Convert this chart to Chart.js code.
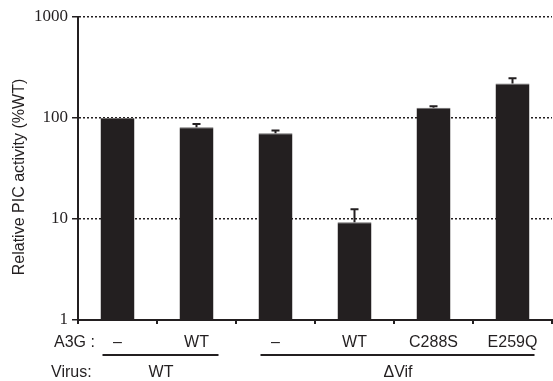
<!DOCTYPE html>
<html>
<head>
<meta charset="utf-8">
<script src="https://cdn.jsdelivr.net/npm/chart.js@4"></script>
<style>
  html, body { margin: 0; padding: 0; background: #fff; }
  #wrap { width: 553px; height: 381px; }
</style>
</head>
<body>
<div id="wrap"><canvas id="picChart" width="553" height="381"></canvas></div>
<script>
// data
const a3gLabels = ['\u2013', 'WT', '\u2013', 'WT', 'C288S', 'E259Q'];
const picActivity = [100, 81, 70.5, 9.3, 126, 220];
const errorTop = [100, 87, 75, 12.5, 131, 247];
const virusGroups = [
  { name: 'WT', from: 0, to: 1 },
  { name: '\u0394Vif', from: 2, to: 5 }
];
const yTicks = [1, 10, 100, 1000];

const sans = '"Liberation Sans", Arial, sans-serif';
const serif = '"Liberation Serif", "Times New Roman", serif';
const ink = '#231f20';

const errorBars = {
  id: 'errorBars',
  afterDatasetsDraw(chart) {
    const ctx = chart.ctx;
    const y = chart.scales.y;
    const meta = chart.getDatasetMeta(0);
    ctx.save();
    ctx.strokeStyle = ink;
    ctx.lineWidth = 2;
    meta.data.forEach((bar, i) => {
      if (errorTop[i] <= picActivity[i]) return;
      const top = y.getPixelForValue(errorTop[i]);
      const base = y.getPixelForValue(picActivity[i]);
      ctx.beginPath();
      ctx.moveTo(bar.x, base);
      ctx.lineTo(bar.x, top);
      ctx.moveTo(bar.x - 4, top);
      ctx.lineTo(bar.x + 4, top);
      ctx.stroke();
    });
    ctx.restore();
  }
};

const extraLabels = {
  id: 'extraLabels',
  afterDraw(chart) {
    const ctx = chart.ctx;
    const x = chart.scales.x;
    ctx.save();
    ctx.fillStyle = ink;
    ctx.strokeStyle = ink;
    ctx.font = '16px ' + sans;
    ctx.textBaseline = 'middle';

    ctx.textAlign = 'left';
    ctx.fillText('A3G :', 54, 343);
    ctx.fillText('Virus:', 51, 373);

    ctx.lineWidth = 2;
    ctx.textAlign = 'center';
    virusGroups.forEach(g => {
      const x0 = x.getPixelForValue(g.from);
      const x1 = x.getPixelForValue(g.to);
      ctx.beginPath();
      ctx.moveTo(x0 - 15, 355);
      ctx.lineTo(x1 + 22, 355);
      ctx.stroke();
      ctx.fillText(g.name, (x0 + x1) / 2 + 4, 373);
    });

    // y axis title
    ctx.translate(20, 177);
    ctx.rotate(-Math.PI / 2);
    ctx.fillText('Relative PIC activity (%WT)', 0, 0);
    ctx.restore();
  }
};

new Chart(document.getElementById('picChart'), {
  type: 'bar',
  data: {
    labels: a3gLabels,
    datasets: [{
      data: picActivity,
      backgroundColor: ink,
      borderColor: '#6d6b6b',
      borderWidth: { top: 1, left: 0, right: 0, bottom: 0 },
      barPercentage: 0.43,
      categoryPercentage: 1
    }]
  },
  options: {
    responsive: false,
    animation: false,
    layout: { padding: { top: 17, right: 1, left: 0, bottom: 0 } },
    plugins: { legend: { display: false }, tooltip: { enabled: false } },
    scales: {
      x: {
        afterFit: s => { s.height = 61; },
        grid: {
          offset: true,
          drawOnChartArea: false,
          color: ink,
          lineWidth: 2,
          tickLength: 4
        },
        border: { color: ink, width: 2 },
        ticks: {
          color: ink,
          font: { family: sans, size: 16 },
          padding: 9,
          maxRotation: 0,
          autoSkip: false
        }
      },
      y: {
        type: 'logarithmic',
        min: 1,
        max: 1000,
        afterFit: s => { s.width = 78; },
        afterBuildTicks: s => { s.ticks = yTicks.map(v => ({ value: v })); },
        grid: {
          color: ink,
          lineWidth: 1.5,
          tickLength: 6
        },
        border: { color: ink, width: 2, dash: [2, 2] },
        ticks: {
          color: ink,
          font: { family: serif, size: 17 },
          padding: 4,
          callback: v => String(v)
        }
      }
    }
  },
  plugins: [errorBars, extraLabels]
});
</script>
</body>
</html>
